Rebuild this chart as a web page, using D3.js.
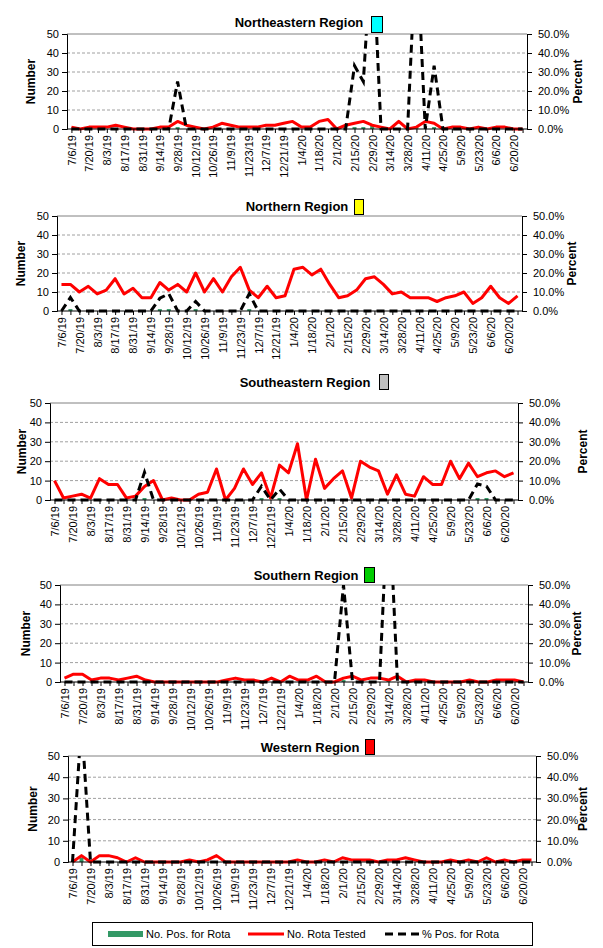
<!DOCTYPE html>
<html><head><meta charset="utf-8">
<script src="https://cdn.jsdelivr.net/npm/d3@7"></script>
<style>
body{margin:0;background:#fff}
svg{display:block}
text{font-family:Arial,"Liberation Sans",sans-serif}
</style>
</head><body>
<svg id="c" width="603" height="948"></svg>
<script>
// ---- data ----
const weeks = ["7/6/19","7/13/19","7/20/19","7/27/19","8/3/19","8/10/19","8/17/19","8/24/19","8/31/19","9/7/19",
  "9/14/19","9/21/19","9/28/19","10/5/19","10/12/19","10/19/19","10/26/19","11/2/19","11/9/19","11/16/19",
  "11/23/19","11/30/19","12/7/19","12/14/19","12/21/19","12/28/19","1/4/20","1/11/20","1/18/20","1/25/20",
  "2/1/20","2/8/20","2/15/20","2/22/20","2/29/20","3/7/20","3/14/20","3/21/20","3/28/20","4/4/20",
  "4/11/20","4/18/20","4/25/20","5/2/20","5/9/20","5/16/20","5/23/20","5/30/20","6/6/20","6/13/20",
  "6/20/20","6/27/20"];
const tickLabels = ["7/6/19","7/20/19","8/3/19","8/17/19","8/31/19","9/14/19","9/28/19","10/12/19","10/26/19",
  "11/9/19","11/23/19","12/7/19","12/21/19","1/4/20","1/18/20","2/1/20","2/15/20","2/29/20","3/14/20",
  "3/28/20","4/11/20","4/25/20","5/9/20","5/23/20","6/6/20","6/20/20"];
const numberTicks = [0,10,20,30,40,50];
const percentTicks = [0,10,20,30,40,50];
const seriesNames = ["No. Pos. for Rota","No. Rota Tested","% Pos. for Rota"];

const neTested = [1,0,1,1,1,2,1,0,0,0, 1,1,4,2,1,0,1,3,2,1, 1,1,2,2,3,4,1,1,4,5, 0,2,3,4,2,1,0,4,0,1, 4,3,0,1,1,0,1,0,1,1, 0,0];
const nePos    = [0,0,0,0,0,0,0,0,0,0, 0,0,1,0,0,0,0,0,0,0, 0,0,0,0,0,0,0,0,0,0, 0,0,1,1,2,0,0,0,0,1, 0,1,0,0,0,0,0,0,0,0, 0,0];
const nePct    = [0,0,0,0,0,0,0,0,0,0, 0,0,25,0,0,0,0,0,0,0, 0,0,0,0,0,0,0,0,0,0, 0,0,33.3,25,100,0,0,0,0,100, 0,33.3,0,0,0,0,0,0,0,0, 0,0];

const nTested = [14,14,10,13,9,11,17,9,12,7, 7,15,11,14,10,20,10,17,10,18, 23,11,7,13,7,8,22,23,19,22, 14,7,8,11,17,18,14,9,10,7, 7,7,5,7,8,10,4,7,13,7, 4,8];
const nPos    = [0,1,0,0,0,0,0,0,0,0, 0,1,1,0,0,1,0,0,0,0, 0,1,0,0,0,0,0,0,0,0, 0,0,0,0,0,0,0,0,0,0, 0,0,0,0,0,0,0,0,0,0, 0,0];
const nPct    = [0,7.1,0,0,0,0,0,0,0,0, 0,6.7,9.1,0,0,5,0,0,0,0, 0,9.1,0,0,0,0,0,0,0,0, 0,0,0,0,0,0,0,0,0,0, 0,0,0,0,0,0,0,0,0,0, 0,0];

const seTested = [10,1,2,3,1,11,8,8,1,2, 7,10,0,1,0,0,3,4,16,0, 6,16,8,14,1,18,14,29,0,21, 6,11,15,1,20,17,15,3,13,3, 2,12,8,8,20,11,19,12,14,15, 12,14];
const sePos    = [0,0,0,0,0,0,0,0,0,0, 1,0,0,0,0,0,0,0,0,0, 0,0,0,1,0,1,0,0,0,0, 0,0,0,0,0,0,0,0,0,0, 0,0,0,0,0,0,0,1,1,0, 0,0];
const sePct    = [0,0,0,0,0,0,0,0,0,0, 14.3,0,0,0,0,0,0,0,0,0, 0,0,0,7.1,0,5.6,0,0,0,0, 0,0,0,0,0,0,0,0,0,0, 0,0,0,0,0,0,0,8.3,7.1,0, 0,0];

const sTested = [2,4,4,1,2,2,1,2,3,1, 0,0,0,0,0,0,0,0,1,2, 1,1,0,2,0,3,1,1,3,0, 0,2,3,1,2,2,1,3,0,1, 1,0,0,0,0,1,0,0,1,1, 1,0];
const sPos    = [0,0,0,0,0,0,0,0,0,0, 0,0,0,0,0,0,0,0,0,0, 0,0,0,0,0,0,0,0,0,0, 0,1,0,0,0,0,1,0,0,0, 0,0,0,0,0,0,0,0,0,0, 0,0];
const sPct    = [0,0,0,0,0,0,0,0,0,0, 0,0,0,0,0,0,0,0,0,0, 0,0,0,0,0,0,0,0,0,0, 0,50,0,0,0,0,100,0,0,0, 0,0,0,0,0,0,0,0,0,0, 0,0];

const wTested = [0,3,0,3,3,2,0,2,0,0, 0,0,0,1,0,1,3,0,0,0, 0,0,0,0,0,1,0,0,1,0, 2,1,1,1,0,1,1,2,1,0, 0,0,1,0,1,0,2,0,1,0, 1,1];
const wPos    = [0,2,0,0,0,0,0,0,0,0, 0,0,0,0,0,0,0,0,0,0, 0,0,0,0,0,0,0,0,0,0, 0,0,0,0,0,0,0,0,0,0, 0,0,0,0,0,0,0,0,0,0, 0,0];
const wPct    = [0,66.7,0,0,0,0,0,0,0,0, 0,0,0,0,0,0,0,0,0,0, 0,0,0,0,0,0,0,0,0,0, 0,0,0,0,0,0,0,0,0,0, 0,0,0,0,0,0,0,0,0,0, 0,0];

// ---- layout / style ----
const GREEN = "#339966", RED = "#ff0000";
const panels = [
  {name:"Northeastern Region", swatch:"#00ffff", tested:neTested, pos:nePos, pct:nePct,
   l:67, r:527, t:34, b:129, titleX:299, titleY:27, box:[371,16,11,16], numX:31, pctX:578},
  {name:"Northern Region", swatch:"#ffff00", tested:nTested, pos:nPos, pct:nPct,
   l:57, r:522, t:216, b:311, titleX:297, titleY:211, box:[354,199,9,15], numX:21, pctX:572},
  {name:"Southeastern Region", swatch:"#c0c0c0", tested:seTested, pos:sePos, pct:sePct,
   l:50, r:518, t:403, b:500, titleX:305, titleY:387, box:[379,374,9,15], numX:22, pctX:583},
  {name:"Southern Region", swatch:"#00cc00", tested:sTested, pos:sPos, pct:sPct,
   l:60, r:528, t:585, b:682, titleX:306, titleY:580, box:[364,567,10,15], numX:26, pctX:577},
  {name:"Western Region", swatch:"#ff0000", tested:wTested, pos:wPos, pct:wPct,
   l:68, r:536, t:756, b:862, titleX:310, titleY:752, box:[365,739,9,15], numX:33, pctX:583}
];

const svg = d3.select("#c");

panels.forEach((p, pi) => {
  const g = svg.append("g");
  const x = d3.scalePoint().domain(weeks).range([p.l, p.r]).padding(0.5);
  const y = d3.scaleLinear().domain([0, 50]).range([p.b, p.t]);
  const yR = d3.scaleLinear().domain([0, 50]).range([p.b, p.t]);

  // gridlines
  g.selectAll("line.grid").data(numberTicks.filter(v => v > 0 && v < 50)).join("line")
    .attr("x1", p.l).attr("x2", p.r).attr("y1", d => y(d)).attr("y2", d => y(d))
    .attr("stroke", "#a0a0a0").attr("stroke-width", 1).attr("stroke-dasharray", "3,2");
  g.append("line").attr("x1", p.l).attr("x2", p.r).attr("y1", y(50)).attr("y2", y(50))
    .attr("stroke", "#808080").attr("stroke-width", 1);

  // clip
  const cid = "clip" + pi;
  svg.append("defs").append("clipPath").attr("id", cid).append("rect")
    .attr("x", p.l - 6).attr("y", p.t).attr("width", p.r - p.l + 12).attr("height", p.b - p.t + 6);

  // bars
  g.selectAll("rect.bar").data(weeks.map((w, i) => ({w, v: p.pos[i]}))).join("rect")
    .attr("x", d => x(d.w) - 2).attr("width", 4)
    .attr("y", d => y(d.v)).attr("height", d => y(0) - y(d.v))
    .attr("fill", GREEN);

  // tested line
  g.append("path").datum(weeks.map((w, i) => ({w, v: p.tested[i]})))
    .attr("d", d3.line().x(d => x(d.w)).y(d => y(d.v)))
    .attr("fill", "none").attr("stroke", RED).attr("stroke-width", 3).attr("stroke-linejoin", "round");

  // percent line
  g.append("path").datum(weeks.map((w, i) => ({w, v: p.pct[i]})))
    .attr("clip-path", `url(#${cid})`)
    .attr("d", d3.line().x(d => x(d.w)).y(d => yR(d.v)))
    .attr("fill", "none").attr("stroke", "#000").attr("stroke-width", 3)
    .attr("stroke-dasharray", "8,5");

  // axes
  const ax = g.append("g").attr("transform", `translate(${p.l},0)`)
    .call(d3.axisLeft(y).tickValues(numberTicks).tickSize(5).tickPadding(3));
  const axR = g.append("g").attr("transform", `translate(${p.r},0)`)
    .call(d3.axisRight(yR).tickValues(percentTicks).tickSize(5).tickPadding(6).tickFormat(d => d.toFixed(1) + "%"));
  const axB = g.append("g").attr("transform", `translate(0,${p.b})`)
    .call(d3.axisBottom(x).tickSize(4).tickFormat(d => tickLabels.includes(d) ? d : ""));
  [ax, axR, axB].forEach(a => {
    a.select(".domain").attr("stroke", "#000");
    a.selectAll(".tick line").attr("stroke", "#000");
    a.selectAll("text").attr("font-size", 11).attr("fill", "#000")
      .attr("font-family", "Arial, 'Liberation Sans', sans-serif");
  });
  axB.select(".domain").attr("d", `M${p.l},0H${p.r}`);
  axB.selectAll(".tick text")
    .attr("transform", "rotate(-90)").attr("text-anchor", "end")
    .attr("x", -6).attr("y", 0).attr("dy", "0.35em");

  // axis titles
  g.append("text").attr("transform", `translate(${p.numX},${(p.t + p.b) / 2}) rotate(-90)`)
    .attr("text-anchor", "middle").attr("dy", "0.35em")
    .attr("font-size", 12).attr("font-weight", "bold").text("Number");
  g.append("text").attr("transform", `translate(${p.pctX},${(p.t + p.b) / 2}) rotate(-90)`)
    .attr("text-anchor", "middle").attr("dy", "0.35em")
    .attr("font-size", 12).attr("font-weight", "bold").text("Percent");

  // title
  g.append("text").attr("x", p.titleX).attr("y", p.titleY).attr("text-anchor", "middle")
    .attr("font-size", 13).attr("font-weight", "bold").text(p.name);
  g.append("rect").attr("x", p.box[0] + 0.5).attr("y", p.box[1] + 0.5)
    .attr("width", p.box[2]).attr("height", p.box[3])
    .attr("fill", p.swatch).attr("stroke", "#000").attr("stroke-width", 1);
});

// legend
const lg = svg.append("g");
lg.append("rect").attr("x", 92.5).attr("y", 922.5).attr("width", 440).attr("height", 23)
  .attr("fill", "#fff").attr("stroke", "#000");
const ly = 934;
lg.append("rect").attr("x", 108).attr("y", ly - 3).attr("width", 35).attr("height", 6).attr("fill", GREEN);
lg.append("line").attr("x1", 248).attr("x2", 284).attr("y1", ly).attr("y2", ly)
  .attr("stroke", RED).attr("stroke-width", 3);
lg.append("line").attr("x1", 385).attr("x2", 419).attr("y1", ly).attr("y2", ly)
  .attr("stroke", "#000").attr("stroke-width", 3).attr("stroke-dasharray", "8,5");
[[146, seriesNames[0]], [287, seriesNames[1]], [422, seriesNames[2]]].forEach(([tx, t]) => {
  lg.append("text").attr("x", tx).attr("y", ly).attr("dy", "0.35em").attr("font-size", 11).text(t);
});
</script>
</body></html>
